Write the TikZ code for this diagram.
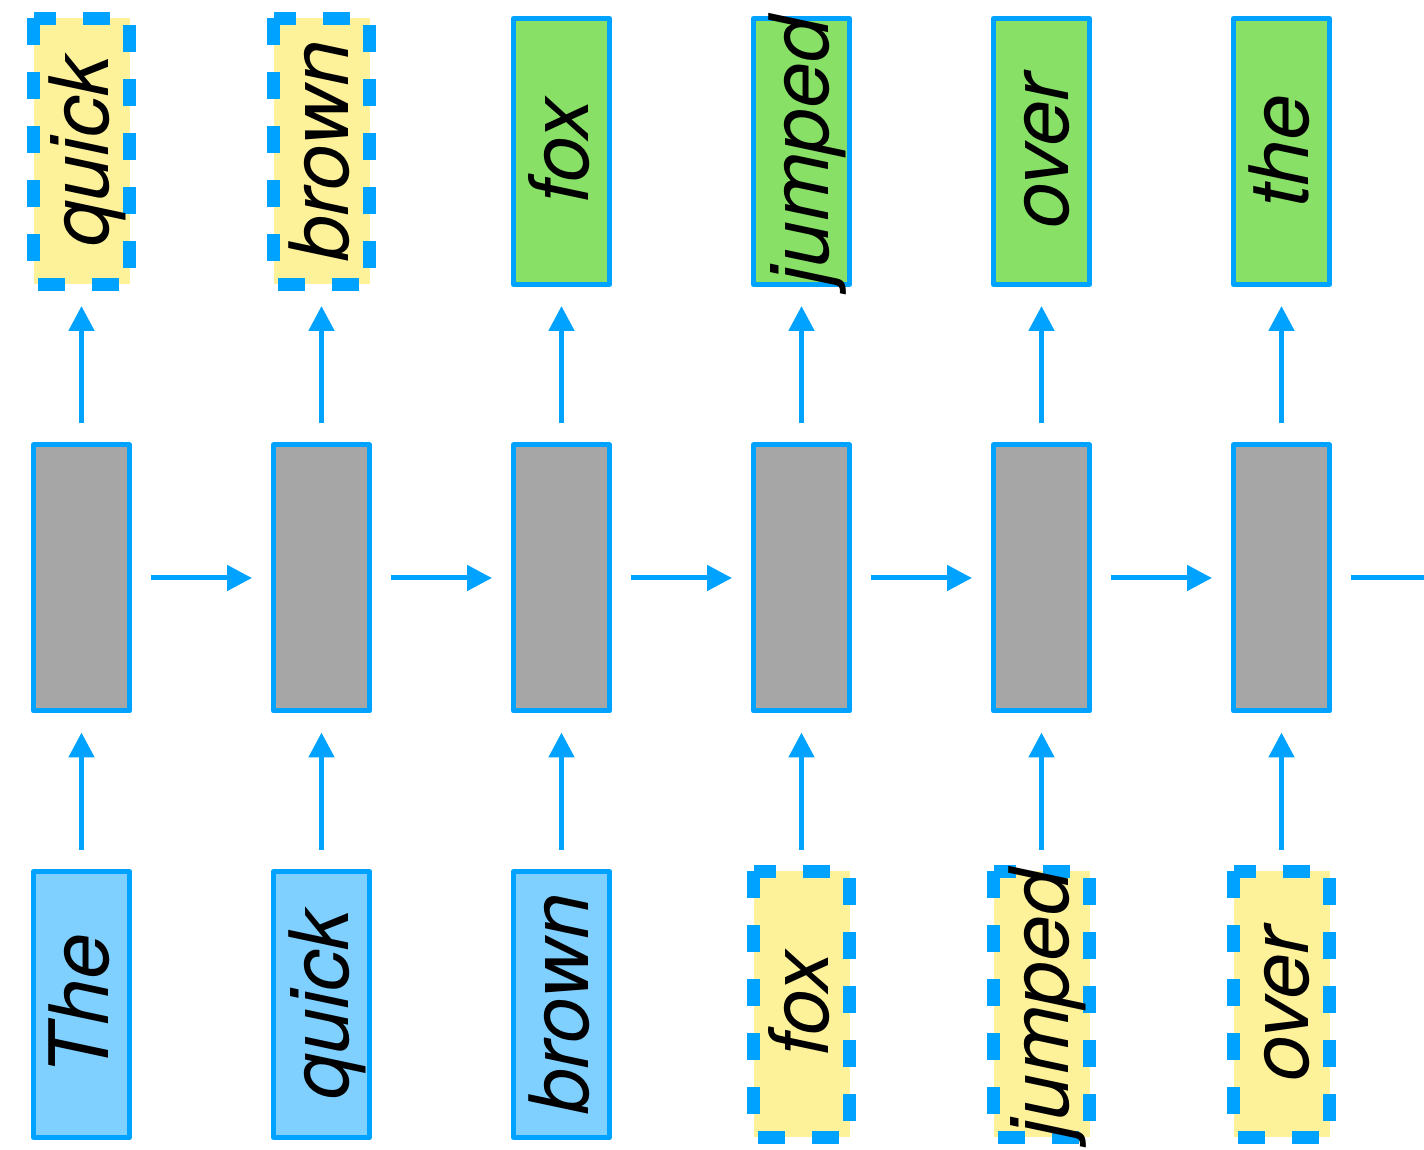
\documentclass[tikz,border=0pt]{standalone}
\usepackage{fontspec}
\setsansfont{TeX Gyre Heros}
\usetikzlibrary{arrows.meta}

\definecolor{cellblue}{HTML}{00A2FF}
\definecolor{inblue}{HTML}{80D0FF}
\definecolor{outgreen}{HTML}{88E066}
\definecolor{sampyellow}{HTML}{FDF29A}
\definecolor{hidgray}{HTML}{A6A6A6}

% zero-width box, so long words may run over the frame
\newcommand{\wrd}[1]{\makebox[0pt]{#1}}

\tikzset{
  wordbox/.style={rotate=90, minimum width=133pt, minimum height=48pt,
    inner sep=0pt, outer sep=0pt, text height=27pt, text depth=0pt,
    font=\sffamily\itshape\fontsize{41pt}{48pt}\selectfont},
  inword/.style={wordbox, draw=cellblue, line width=2.5pt, line join=round, fill=inblue},
  outword/.style={wordbox, draw=cellblue, line width=2.5pt, line join=round, fill=outgreen},
  sampword/.style={wordbox, draw=cellblue, line width=6.5pt, fill=sampyellow,
    dash pattern=on 13.5pt off 13.5pt},
  cell/.style={draw=cellblue, line width=2.5pt, line join=round, fill=hidgray,
    minimum width=48pt, minimum height=133pt, inner sep=0pt, outer sep=0pt},
  flow/.style={draw=cellblue, line width=2.5pt, -{Triangle[length=12.5pt,width=12.5pt]},
    shorten >=10.75pt, shorten <=10.75pt}
}

\begin{document}
\begin{tikzpicture}[x=0.5pt, y=0.5pt]
    \clip (0, 0) rectangle (1424, 1150);

    % Input words (bottom row)
    \node[inword]   (in1) at (81.5, 145.5)   {\wrd{The}};
    \node[inword]   (in2) at (321.5, 145.5)  {\wrd{quick}};
    \node[inword]   (in3) at (561.5, 145.5)  {\wrd{brown}};
    \node[sampword] (in4) at (801.5, 145.5)  {\wrd{fox}};
    \node[sampword] (in5) at (1041.5, 145.5) {\wrd{jumped}};
    \node[sampword] (in6) at (1281.5, 145.5) {\wrd{over}};

    % Hidden cells (middle row)
    \node[cell] (h1) at (81.5, 572)   {};
    \node[cell] (h2) at (321.5, 572)  {};
    \node[cell] (h3) at (561.5, 572)  {};
    \node[cell] (h4) at (801.5, 572)  {};
    \node[cell] (h5) at (1041.5, 572) {};
    \node[cell] (h6) at (1281.5, 572) {};
    \coordinate (hnext) at (1473, 572);

    % Output words (top row)
    \node[sampword] (out1) at (81.5, 998.5)   {\wrd{quick}};
    \node[sampword] (out2) at (321.5, 998.5)  {\wrd{brown}};
    \node[outword]  (out3) at (561.5, 998.5)  {\wrd{fox}};
    \node[outword]  (out4) at (801.5, 998.5)  {\wrd{jumped}};
    \node[outword]  (out5) at (1041.5, 998.5) {\wrd{over}};
    \node[outword]  (out6) at (1281.5, 998.5) {\wrd{the}};

    % Arrows into the cells
    \draw[flow] (in1) -- (h1);
    \draw[flow] (in2) -- (h2);
    \draw[flow] (in3) -- (h3);
    \draw[flow] (in4) -- (h4);
    \draw[flow] (in5) -- (h5);
    \draw[flow] (in6) -- (h6);

    % Arrows out of the cells
    \draw[flow] (h1) -- (out1);
    \draw[flow] (h2) -- (out2);
    \draw[flow] (h3) -- (out3);
    \draw[flow] (h4) -- (out4);
    \draw[flow] (h5) -- (out5);
    \draw[flow] (h6) -- (out6);

    % Recurrent arrows
    \draw[flow] (h1) -- (h2);
    \draw[flow] (h2) -- (h3);
    \draw[flow] (h3) -- (h4);
    \draw[flow] (h4) -- (h5);
    \draw[flow] (h5) -- (h6);
    \draw[flow] (h6) -- (hnext);
\end{tikzpicture}
\end{document}
